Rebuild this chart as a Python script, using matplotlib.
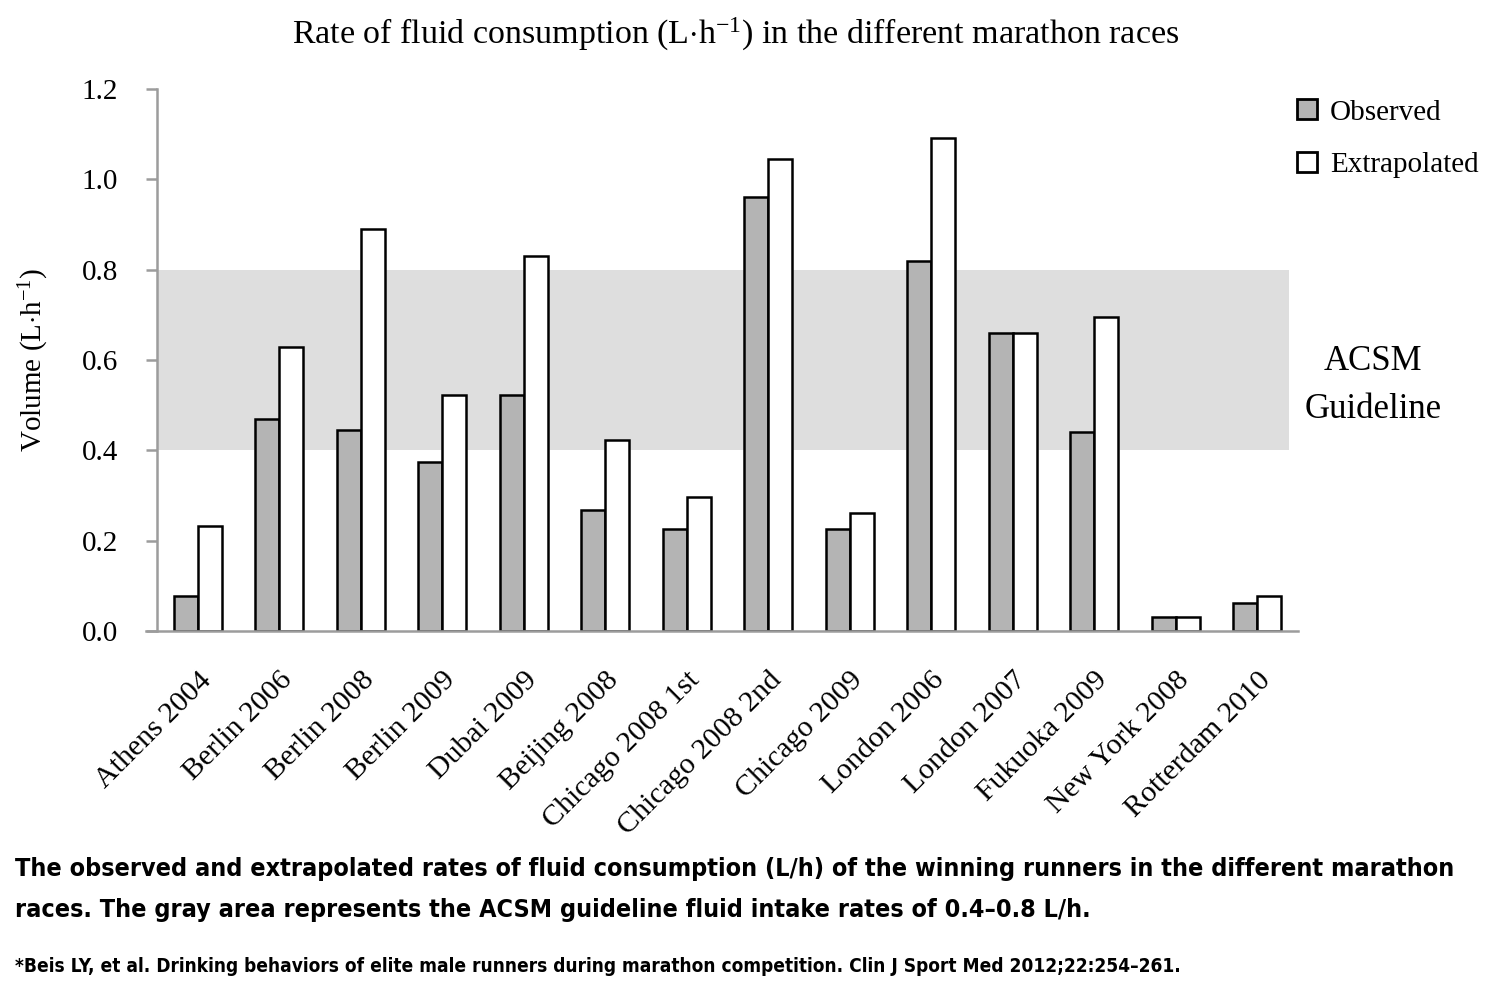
import numpy as np
import matplotlib
matplotlib.use("Agg")
import matplotlib.pyplot as plt
from matplotlib.lines import Line2D

plt.rcParams['font.family'] = ['Liberation Serif', 'DejaVu Serif']
plt.rcParams['mathtext.fontset'] = 'custom'
plt.rcParams['mathtext.rm'] = 'Liberation Serif'
plt.rcParams['mathtext.it'] = 'Liberation Serif:italic'

races = ["Athens 2004", "Berlin 2006", "Berlin 2008", "Berlin 2009", "Dubai 2009",
         "Beijing 2008", "Chicago 2008 1st", "Chicago 2008 2nd", "Chicago 2009",
         "London 2006", "London 2007", "Fukuoka 2009", "New York 2008", "Rotterdam 2010"]
observed = [0.077, 0.469, 0.445, 0.374, 0.523, 0.268, 0.226, 0.961, 0.226,
            0.819, 0.660, 0.440, 0.031, 0.062]
extrapolated = [0.232, 0.629, 0.890, 0.522, 0.830, 0.423, 0.297, 1.045, 0.261,
                1.091, 0.660, 0.695, 0.031, 0.077]
guideline = (0.4, 0.8)
yticks = [0.0, 0.2, 0.4, 0.6, 0.8, 1.0, 1.2]

axis_gray = '#9c9c9c'
bar_gray = '#b4b4b4'

fig = plt.figure(figsize=(14.86, 10.08), dpi=100)
ax = fig.add_axes([146 / 1486, 1 - 631 / 1008, (1298 - 146) / 1486, (631 - 89) / 1008])

x = np.arange(len(races))
w = 0.295
# ACSM band
ax.fill_between([-0.49, 13.39], guideline[0], guideline[1], color='#dedede', lw=0, zorder=0)

ax.bar(x - w / 2, observed, w, color=bar_gray, edgecolor='black', linewidth=1.8, zorder=2)
ax.bar(x + w / 2, extrapolated, w, color='white', edgecolor='black', linewidth=1.8, zorder=2)

ax.set_xlim(-0.635, 13.5)
ax.set_ylim(0, 1.2)
for s in ['top', 'right']:
    ax.spines[s].set_visible(False)
ax.spines['left'].set_position(('data', -0.5))
for s in ['left', 'bottom']:
    ax.spines[s].set_color(axis_gray)
    ax.spines[s].set_linewidth(1.8)
    ax.spines[s].set_zorder(3)

ax.set_yticks(yticks)
ax.set_yticklabels([f"{v:.1f}" for v in yticks], fontsize=21)
ax.tick_params(axis='y', length=8, width=1.8, color=axis_gray, pad=20)
ax.set_xticks(x)
ax.set_xticklabels(races, rotation=45, ha='right', rotation_mode='anchor', fontsize=21.5)
ax.tick_params(axis='x', length=0, pad=26)

ax.set_ylabel("Volume (L$\\cdot$h$^{-1}$)", fontsize=21, labelpad=22)

fig.text(736 / 1486, 1 - 34 / 1008,
         "Rate of fluid consumption (L$\\cdot$h$^{-1}$) in the different marathon races",
         ha='center', va='center', fontsize=24.5)

fig.text(1373 / 1486, 1 - 385 / 1008, "ACSM\nGuideline", ha='center', va='center',
         fontsize=25, linespacing=1.6)

handles = [Line2D([], [], ls='none', marker='s', markersize=15, markerfacecolor=bar_gray,
                  markeredgecolor='black', markeredgewidth=2),
           Line2D([], [], ls='none', marker='s', markersize=15, markerfacecolor='white',
                  markeredgecolor='black', markeredgewidth=2)]
fig.legend(handles, ["Observed", "Extrapolated"], loc='upper left',
           bbox_to_anchor=(1266 / 1486, 1 - 73 / 1008), frameon=False, fontsize=21,
           handletextpad=0.3, labelspacing=0.9, handlelength=1.0)

cap_font = ['DejaVu Sans']
fig.text(15 / 1486, 1 - 869 / 1008,
         "The observed and extrapolated rates of fluid consumption (L/h) of the winning runners in the different marathon",
         ha='left', va='center', fontsize=18, fontweight='bold', family=cap_font,
         fontstretch='condensed')
fig.text(15 / 1486, 1 - 910 / 1008,
         "races. The gray area represents the ACSM guideline fluid intake rates of 0.4\u20130.8 L/h.",
         ha='left', va='center', fontsize=18, fontweight='bold', family=cap_font,
         fontstretch='condensed')
fig.text(15 / 1486, 1 - 967 / 1008,
         "*Beis LY, et al. Drinking behaviors of elite male runners during marathon competition. Clin J Sport Med 2012;22:254\u2013261.",
         ha='left', va='center', fontsize=13.65, fontweight='bold', family=cap_font,
         fontstretch='condensed')

fig.savefig("out.png", dpi=100)
